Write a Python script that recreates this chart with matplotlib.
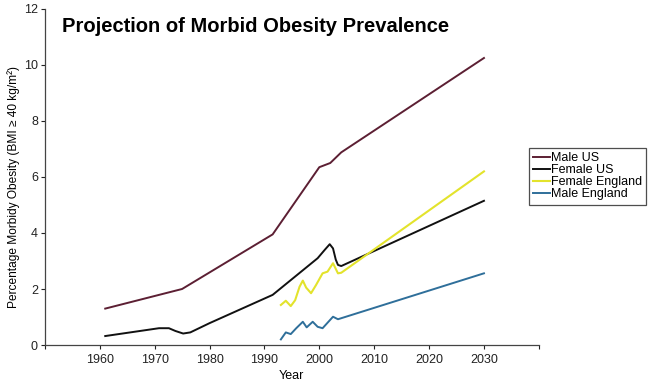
import matplotlib.pyplot as plt

plt.rcParams['font.family'] = ['Liberation Sans', 'DejaVu Sans']

# values
male_us_year = [1961, 1975, 1991.5, 2000, 2002, 2004, 2030]
male_us_val = [1.3, 2.0, 3.95, 6.35, 6.5, 6.88, 10.25]

female_us_year = [1961, 1970.8, 1972.6, 1973.8, 1975.2, 1976.5, 1980, 1991.5,
                  1999.7, 2001.0, 2001.9, 2002.5, 2003.0, 2003.4, 2004, 2030]
female_us_val = [0.32, 0.6, 0.6, 0.5, 0.41, 0.45, 0.78, 1.79,
                 3.1, 3.4, 3.6, 3.45, 3.05, 2.86, 2.82, 5.15]

female_eng_year = [1993, 1993.9, 1994.8, 1995.6, 1996.4, 1997, 1997.6, 1998.5,
                   1999.4, 2000.6, 2001.5, 2002.5, 2003.4, 2004, 2030]
female_eng_val = [1.43, 1.58, 1.39, 1.6, 2.08, 2.3, 2.05, 1.85,
                  2.14, 2.56, 2.62, 2.92, 2.56, 2.58, 6.2]

male_eng_year = [1993, 1993.9, 1994.8, 1995.8, 1997, 1997.7, 1998.8, 1999.7,
                 2000.6, 2002.5, 2003.4, 2030]
male_eng_val = [0.2, 0.45, 0.39, 0.6, 0.83, 0.63, 0.83, 0.65,
                0.6, 1.01, 0.92, 2.56]

xticks = list(range(1950, 2041, 10))
xticklabels = ['' if t in (1950, 2040) else str(t) for t in xticks]
yticks = [0, 2, 4, 6, 8, 10, 12]

fig = plt.figure(figsize=(6.5, 3.89), dpi=100)
ax = fig.add_axes([0.069, 0.1131, 0.76, 0.8638])

l1, = ax.plot(male_us_year, male_us_val, color='#5c1f33', lw=1.4, label='Male US')
l2, = ax.plot(female_us_year, female_us_val, color='#111111', lw=1.4, label='Female US')
l3, = ax.plot(female_eng_year, female_eng_val, color='#e3e32c', lw=1.5, label='Female England')
l4, = ax.plot(male_eng_year, male_eng_val, color='#2f6f9a', lw=1.4, label='Male England')

ax.set_xlim(1950, 2040)
ax.set_ylim(0, 12)
ax.set_xticks(xticks)
ax.set_xticklabels(xticklabels)
ax.set_yticks(yticks)
ax.tick_params(labelsize=9, length=3, width=0.8, colors='#222222')
ax.tick_params(axis='y', pad=2)
for s in ['top', 'right']:
    ax.spines[s].set_visible(False)
for s in ['left', 'bottom']:
    ax.spines[s].set_color('#444444')
    ax.spines[s].set_linewidth(0.9)

ax.set_xlabel('Year', fontsize=9, labelpad=3)
ax.set_ylabel('Percentage Morbidy Obesity (BMI \u2265 40 kg/m\u00b2)', fontsize=8.6)
ax.yaxis.set_label_coords(-0.05, 0.47)

fig.text(0.095, 0.933, 'Projection of Morbid Obesity Prevalence', fontsize=14.5,
         fontweight='bold', ha='left', va='center')

leg = fig.legend(handles=[l1, l2, l3, l4], loc='upper left',
                 bbox_to_anchor=(0.814, 0.62), fontsize=9, frameon=True,
                 fancybox=False, handlelength=1.3, handletextpad=0.1,
                 labelspacing=0.0, borderpad=0.35, borderaxespad=0)
leg.get_frame().set_edgecolor('#222222')
leg.get_frame().set_linewidth(0.9)

plt.savefig('out.png')
